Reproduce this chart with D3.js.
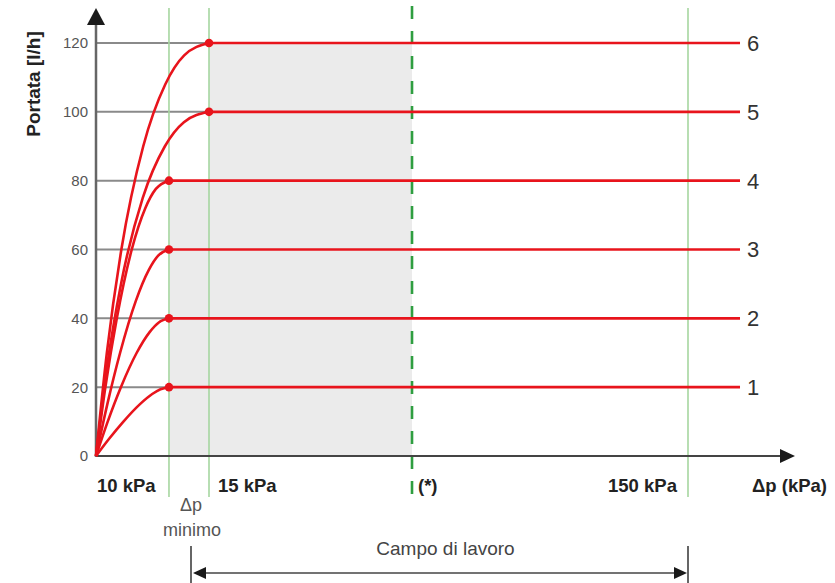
<!DOCTYPE html>
<html>
<head>
<meta charset="utf-8">
<script src="https://cdn.jsdelivr.net/npm/d3@7"></script>
<style>
  html, body { margin: 0; padding: 0; background: #fff; }
  svg { display: block; font-family: "Liberation Sans", Arial, sans-serif; }
</style>
</head>
<body>
<svg id="chart" width="835" height="583"></svg>
<script>
// ---------- data ----------
const flows = [20, 40, 60, 80, 100, 120];          // Portata [l/h] plateau of each curve
const seriesNames = ["1", "2", "3", "4", "5", "6"];
const yTicks = [0, 20, 40, 60, 80, 100, 120];
// schematic Δp axis (arbitrary units 0..100)
const dpMinimo = 10.41;
const dp15 = 16.12;
const dpStar = 45.08;
const dp150 = 84.45;
const dpLineEnd = 91.87;
const campoStart = 13.55;
const reachX = [dpMinimo, dpMinimo, dpMinimo, dpMinimo, dp15, dp15];
const xLabels = ["10 kPa", "15 kPa", "(*)", "150 kPa"];
const xLabelPos = [0, dp15, dpStar, dp150];
// rising part of each curve: [Δp, portata]
const curve1 = [[0,0],[1.87,5],[3.91,10],[6.24,15],[8.02,18],[9.20,19.4],[10.41,20]];
const curve2 = [[0,0],[1.67,10],[3.55,20],[5.81,30],[7.65,36],[8.96,38.8],[10.41,40]];
const curve3 = [[0,0],[1.61,15],[3.44,30],[5.67,45],[7.52,54],[8.87,58.2],[10.41,60]];
const curve4 = [[0,0],[1.34,20],[2.97,40],[5.10,60],[7.03,72],[8.54,77.6],[10.41,80]];
const curve5 = [[0,0],[1.51,25],[3.57,50],[6.67,75],[9.83,90],[12.54,97],[16.12,100]];
const curve6 = [[0,0],[1.55,30],[3.62,60],[6.74,90],[9.89,108],[12.58,116.4],[16.12,120]];
const curves = [curve1, curve2, curve3, curve4, curve5, curve6];

// ---------- drawing ----------
const svg = d3.select("#chart");
const x = d3.scaleLinear().domain([0, 100]).range([96, 797]);
const y = d3.scaleLinear().domain([0, 120]).range([456, 43]);
const RED = "#e8141c";
const topY = 8;

// shaded working area (stepped)
const shade = [
  [dpMinimo, 0], [dpMinimo, 80], [dp15, 80], [dp15, 120], [dpStar, 120], [dpStar, 0]
];
svg.append("path")
  .attr("d", d3.line().x(d => x(d[0])).y(d => y(d[1]))(shade) + "Z")
  .attr("fill", "#ebebeb");

// gray horizontal grid lines up to each curve's knee
svg.selectAll("line.grid").data(flows).join("line")
  .attr("class", "grid")
  .attr("x1", x(0)).attr("x2", (d, i) => x(reachX[i]))
  .attr("y1", d => y(d)).attr("y2", d => y(d))
  .attr("stroke", "#8a8a8a").attr("stroke-width", 2);

// light green verticals
const greens = [dpMinimo, dp15, dp150];
svg.selectAll("line.green").data(greens).join("line")
  .attr("class", "green")
  .attr("x1", d => x(d)).attr("x2", d => x(d))
  .attr("y1", topY).attr("y2", 497)
  .attr("stroke", "#a6d6a0").attr("stroke-width", 1.6);

// dashed green (*)
svg.append("line")
  .attr("x1", x(dpStar)).attr("x2", x(dpStar))
  .attr("y1", 6).attr("y2", 500)
  .attr("stroke", "#2f9e40").attr("stroke-width", 2.6)
  .attr("stroke-dasharray", "13,12");

// axes
svg.append("line")
  .attr("x1", x(0)).attr("x2", x(0)).attr("y1", y(0) + 1).attr("y2", 22)
  .attr("stroke", "#666").attr("stroke-width", 2.5);
svg.append("path")
  .attr("d", `M${x(0)},${topY} L${x(0) - 9},${topY + 17} L${x(0) + 9},${topY + 17} Z`)
  .attr("fill", "#1a1a1a");
svg.append("line")
  .attr("x1", x(0)).attr("x2", x(100) - 14).attr("y1", y(0)).attr("y2", y(0))
  .attr("stroke", "#444").attr("stroke-width", 2);
svg.append("path")
  .attr("d", `M${x(100) - 2},${y(0)} L${x(100) - 17},${y(0) - 7} L${x(100) - 17},${y(0) + 7} Z`)
  .attr("fill", "#1a1a1a");

// y tick labels
svg.selectAll("text.ytick").data(yTicks).join("text")
  .attr("class", "ytick")
  .attr("x", x(0) - 8).attr("y", d => y(d))
  .attr("dy", "0.36em")
  .attr("text-anchor", "end")
  .attr("font-size", 15).attr("fill", "#555")
  .text(d => d);

// y title
svg.append("text")
  .attr("transform", `translate(40,84) rotate(-90)`)
  .attr("text-anchor", "middle")
  .attr("font-size", 19).attr("font-weight", "bold").attr("fill", "#222")
  .text("Portata [l/h]");

// curves
const line = d3.line().x(d => x(d[0])).y(d => y(d[1])).curve(d3.curveMonotoneX);
svg.selectAll("path.curve").data(curves).join("path")
  .attr("class", "curve")
  .attr("d", line)
  .attr("fill", "none").attr("stroke", RED).attr("stroke-width", 2.6);

svg.selectAll("line.flat").data(flows).join("line")
  .attr("class", "flat")
  .attr("x1", (d, i) => x(reachX[i])).attr("x2", x(dpLineEnd))
  .attr("y1", d => y(d)).attr("y2", d => y(d))
  .attr("stroke", RED).attr("stroke-width", 2.6);

svg.selectAll("circle.knee").data(flows).join("circle")
  .attr("class", "knee")
  .attr("cx", (d, i) => x(reachX[i])).attr("cy", d => y(d))
  .attr("r", 4.3).attr("fill", RED);

// series labels
svg.selectAll("text.sname").data(flows).join("text")
  .attr("class", "sname")
  .attr("x", x(dpLineEnd) + 7).attr("y", d => y(d))
  .attr("dy", "0.36em")
  .attr("font-size", 22).attr("fill", "#333")
  .text((d, i) => seriesNames[i]);

// x labels
const anchors = ["start", "start", "start", "end"];
const offs = [1, 9, 6, -11];
svg.selectAll("text.xlab").data(xLabels).join("text")
  .attr("class", "xlab")
  .attr("x", (d, i) => x(xLabelPos[i]) + offs[i])
  .attr("y", 492)
  .attr("text-anchor", (d, i) => anchors[i])
  .attr("font-size", 18.5).attr("font-weight", "bold").attr("fill", "#222")
  .text(d => d);

svg.append("text")
  .attr("x", 752).attr("y", 492)
  .attr("font-size", 18.5).attr("font-weight", "bold").attr("fill", "#222")
  .text("Δp (kPa)");

// Δp minimo
svg.append("text")
  .attr("x", x(campoStart)).attr("y", 511)
  .attr("text-anchor", "middle").attr("font-size", 18).attr("fill", "#555")
  .text("Δp");
svg.append("text")
  .attr("x", x(campoStart) + 1).attr("y", 536)
  .attr("text-anchor", "middle").attr("font-size", 18).attr("fill", "#555")
  .text("minimo");

// Campo di lavoro
const cy = 573;
[campoStart, dp150].forEach(v => {
  svg.append("line")
    .attr("x1", x(v)).attr("x2", x(v)).attr("y1", 546).attr("y2", 583)
    .attr("stroke", "#666").attr("stroke-width", 2);
});
svg.append("line")
  .attr("x1", x(campoStart) + 4).attr("x2", x(dp150) - 4).attr("y1", cy).attr("y2", cy)
  .attr("stroke", "#444").attr("stroke-width", 1.6);
svg.append("path")
  .attr("d", `M${x(campoStart) + 2},${cy} L${x(campoStart) + 15},${cy - 6} L${x(campoStart) + 15},${cy + 6} Z`)
  .attr("fill", "#1a1a1a");
svg.append("path")
  .attr("d", `M${x(dp150) - 1},${cy} L${x(dp150) - 14},${cy - 6} L${x(dp150) - 14},${cy + 6} Z`)
  .attr("fill", "#1a1a1a");
svg.append("text")
  .attr("x", (x(campoStart) + x(dp150)) / 2 + 6).attr("y", 555)
  .attr("text-anchor", "middle").attr("font-size", 19).attr("fill", "#444")
  .text("Campo di lavoro");
</script>
</body>
</html>
